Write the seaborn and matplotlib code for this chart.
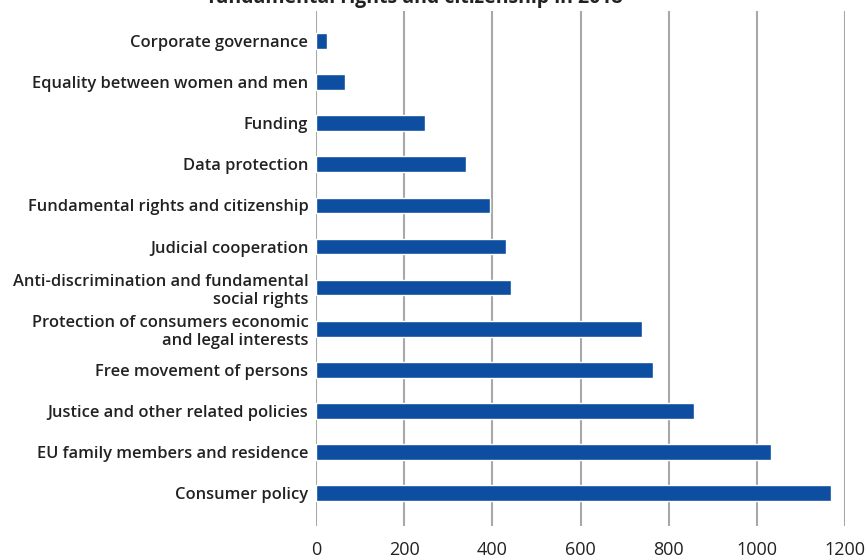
import matplotlib
matplotlib.use("Agg")
import matplotlib.pyplot as plt
import seaborn as sns
import pandas as pd

categories = [
    "Corporate governance",
    "Equality between women and men",
    "Funding",
    "Data protection",
    "Fundamental rights and citizenship",
    "Judicial cooperation",
    "Anti-discrimination and fundamental\nsocial rights",
    "Protection of consumers economic\nand legal interests",
    "Free movement of persons",
    "Justice and other related policies",
    "EU family members and residence",
    "Consumer policy",
]
values = [25, 66, 247, 340, 395, 431, 442, 739, 764, 857, 1032, 1168]
x_ticks = [0, 200, 400, 600, 800, 1000, 1200]
title = "Complaints in the areas of justice, consumers,\nfundamental rights and citizenship in 2018"

df = pd.DataFrame({"category": categories, "value": values})

sns.set_theme(style="white")
plt.rcParams["font.family"] = ["Open Sans", "DejaVu Sans"]

fig = plt.figure(figsize=(8.68, 5.58), dpi=100)
ax = fig.add_axes([316 / 868, 1 - 526 / 558, (845 - 316) / 868, (526 - 11) / 558])

sns.barplot(data=df, x="value", y="category", orient="h", color="#0d4ea0",
            saturation=1, width=0.38, ax=ax)

ax.set_xlim(0, 1200)
ax.set_ylim(11.8, -0.73)
ax.set_xticks(x_ticks)
ax.set_xticklabels([str(t) for t in x_ticks], fontsize=13, color="#222222")
ax.tick_params(axis="x", length=0, pad=10.5)
ax.tick_params(axis="y", length=0, pad=5.5)
for lab in ax.get_yticklabels():
    lab.set_fontsize(11.9)
    lab.set_color("#222222")
    lab.set_fontweight("semibold")
    lab.set_multialignment("right")
ax.set_xlabel("")
ax.set_ylabel("")
for s in ax.spines.values():
    s.set_visible(False)
ax.xaxis.grid(True, color="#a8a8a8", linewidth=1.5)
ax.set_axisbelow(True)

fig.text(415 / 868, 1 - 3 / 558, title, ha="center", va="baseline",
         fontsize=14, fontweight="bold", color="#222222", linespacing=1.3)

fig.savefig("out.png", dpi=100)
